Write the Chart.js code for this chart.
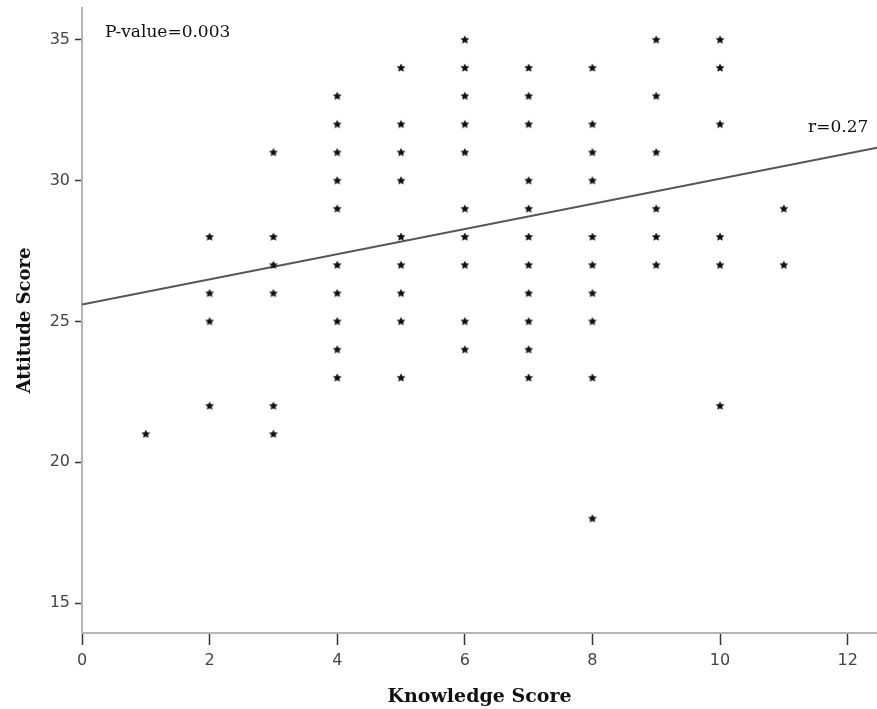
<!DOCTYPE html>
<html>
<head>
<meta charset="utf-8">
<script src="https://cdn.jsdelivr.net/npm/chart.js@4.4.1/dist/chart.umd.min.js"></script>
<style>
  body { margin: 0; background: #fff; }
  canvas { display: block; }
</style>
</head>
<body>
<canvas id="scatterChart" width="877" height="709"></canvas>
<script>
        // one entry per respondent
        const knowledgeScores = [
            1,
            2, 2, 2, 2,
            3, 3, 3, 3, 3, 3,
            4, 4, 4, 4, 4, 4, 4, 4, 4, 4,
            5, 5, 5, 5, 5, 5, 5, 5, 5,
            6, 6, 6, 6, 6, 6, 6, 6, 6, 6,
            7, 7, 7, 7, 7, 7, 7, 7, 7, 7, 7,
            8, 8, 8, 8, 8, 8, 8, 8, 8, 8,
            9, 9, 9, 9, 9, 9,
            10, 10, 10, 10, 10, 10,
            11, 11
        ];
        const attitudeScores = [
            21,
            28, 26, 25, 22,
            31, 28, 27, 26, 22, 21,
            33, 32, 31, 30, 29, 27, 26, 25, 24, 23,
            34, 32, 31, 30, 28, 27, 26, 25, 23,
            35, 34, 33, 32, 31, 29, 28, 27, 25, 24,
            34, 33, 32, 30, 29, 28, 27, 26, 25, 24, 23,
            34, 32, 31, 30, 28, 27, 26, 25, 23, 18,
            35, 33, 31, 29, 28, 27,
            35, 34, 32, 28, 27, 22,
            29, 27
        ];

        // fit line end points
        const fitX = [0, 12.46];
        const fitY = [25.6, 31.17];

        const xTicks = [0, 2, 4, 6, 8, 10, 12];
        const yTicks = [15, 20, 25, 30, 35];

        const notes = [
            { text: 'P-value=0.003', x: 0.36, y: 35.25 },
            { text: 'r=0.27', x: 11.38, y: 31.88 }
        ];

        function makeStar(r) {
            const c = document.createElement('canvas');
            const s = Math.ceil(r * 2 + 2);
            c.width = s;
            c.height = s;
            const g = c.getContext('2d');
            g.fillStyle = '#111';
            g.beginPath();
            for (let i = 0; i < 10; i++) {
                const rad = i % 2 ? r * 0.5 : r;
                const a = -Math.PI / 2 + i * Math.PI / 5;
                g.lineTo(s / 2 + rad * Math.cos(a), s / 2 + rad * Math.sin(a));
            }
            g.closePath();
            g.fill();
            return c;
        }

        const notesPlugin = {
            id: 'notes',
            afterDatasetsDraw(chart) {
                const { ctx, scales: { x, y } } = chart;
                ctx.save();
                ctx.font = '17px "DejaVu Serif"';
                ctx.fillStyle = '#111';
                ctx.textBaseline = 'middle';
                notes.forEach(n => {
                    ctx.fillText(n.text, x.getPixelForValue(n.x), y.getPixelForValue(n.y));
                });
                ctx.restore();
            }
        };

        const star = makeStar(4.6);

        new Chart(document.getElementById('scatterChart'), {
            type: 'scatter',
            data: {
                datasets: [{
                    label: 'Respondents',
                    data: knowledgeScores.map((k, i) => ({ x: k, y: attitudeScores[i] })),
                    pointStyle: star,
                    pointRadius: 4
                }, {
                    label: 'Fit',
                    data: fitX.map((v, i) => ({ x: v, y: fitY[i] })),
                    showLine: true,
                    borderColor: '#555',
                    borderWidth: 2,
                    pointRadius: 0
                }]
            },
            options: {
                responsive: false,
                animation: false,
                layout: { autoPadding: false, padding: { top: 8, right: 0, left: 0, bottom: 0 } },
                plugins: {
                    legend: { display: false },
                    tooltip: { enabled: false }
                },
                scales: {
                    x: {
                        type: 'linear',
                        min: 0,
                        max: 12.46,
                        afterBuildTicks: s => { s.ticks = xTicks.map(v => ({ value: v })); },
                        afterFit: s => { s.height = 76; s.paddingLeft = 0; s.paddingRight = 0; },
                        border: { display: true, color: '#b5b5b5', width: 2 },
                        grid: { drawOnChartArea: false, drawTicks: true, tickLength: 12, tickColor: '#333', tickWidth: 1.5 },
                        ticks: { color: '#444', padding: 6, font: { family: 'DejaVu Sans', size: 16 } },
                        title: {
                            display: true,
                            text: 'Knowledge Score',
                            color: '#111',
                            padding: { top: 0, bottom: 1 },
                            font: { family: 'DejaVu Serif', size: 19, weight: 'bold' }
                        }
                    },
                    y: {
                        min: 13.94,
                        max: 36.13,
                        afterBuildTicks: s => { s.ticks = yTicks.map(v => ({ value: v })); },
                        afterFit: s => { s.width = 82; s.paddingTop = 0; s.paddingBottom = 0; },
                        border: { display: true, color: '#b5b5b5', width: 2 },
                        grid: { drawOnChartArea: false, drawTicks: true, tickLength: 7, tickColor: '#333', tickWidth: 1.5 },
                        ticks: { color: '#444', padding: 5, font: { family: 'DejaVu Sans', size: 16 } },
                        title: {
                            display: true,
                            text: 'Attitude Score',
                            color: '#111',
                            padding: { top: 15, bottom: 0 },
                            font: { family: 'DejaVu Serif', size: 18, weight: 'bold' }
                        }
                    }
                }
            },
            plugins: [notesPlugin]
        });
</script>
</body>
</html>
